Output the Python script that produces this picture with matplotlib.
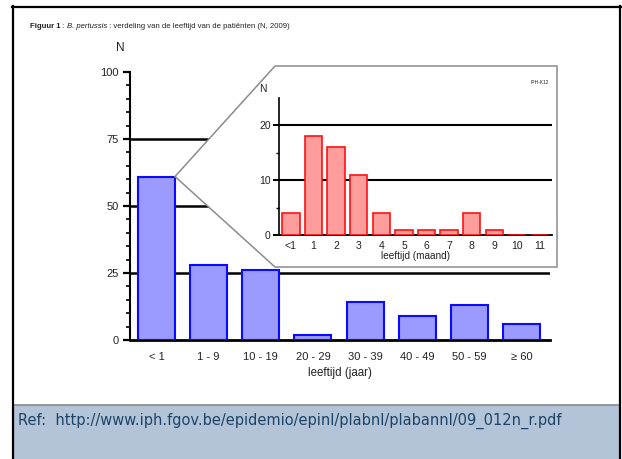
import matplotlib
matplotlib.use("Agg")
import matplotlib.pyplot as plt
from matplotlib import font_manager
from matplotlib.patches import Polygon, Rectangle
from matplotlib.lines import Line2D
from matplotlib.text import Annotation
from matplotlib.ticker import MultipleLocator, FixedLocator


# -----------------------------
# Data
# -----------------------------
AGE_GROUPS = ["< 1", "1 - 9", "10 - 19", "20 - 29", "30 - 39", "40 - 49", "50 - 59", "≥ 60"]
AGE_COUNTS = [61, 28, 26, 2, 14, 9, 13, 6]

MONTHS = ["<1", "1", "2", "3", "4", "5", "6", "7", "8", "9", "10", "11"]
MONTH_COUNTS = [4, 18, 16, 11, 4, 1, 1, 1, 4, 1, 0, 0]

TITLE_BOLD = "Figuur 1"
TITLE_ITALIC = "B. pertussis"
TITLE_REST = " : verdeling van de leeftijd van de patiënten (N, 2009)"
REF_TEXT = "Ref:  http://www.iph.fgov.be/epidemio/epinl/plabnl/plabannl/09_012n_r.pdf"


# -----------------------------
# Style
# -----------------------------
BLUE_FILL = "#9a9aff"
BLUE_EDGE = "#0a0aff"
RED_FILL = "#ff9c9c"
RED_EDGE = "#ff1010"
PANEL_COLOR = "#b4c4d8"
REF_COLOR = "#1d4468"
INSET_EDGE = "#8c8c8c"
TEXT_COLOR = "#222222"

W, H = 622, 459

names = {f.name for f in font_manager.fontManager.ttflist}
TITLE_FONT = "Liberation Sans Narrow" if "Liberation Sans Narrow" in names else "Liberation Sans"
TITLE_SIZE = 6.3 if TITLE_FONT == "Liberation Sans Narrow" else 5.6
plt.rcParams["font.family"] = ["Liberation Sans", "DejaVu Sans"]


def fx(px):
    return px / W


def fy(py):
    return 1 - py / H


fig = plt.figure(figsize=(W / 100, H / 100), dpi=100)

# frame + bottom panel
fig.add_artist(Rectangle((fx(14), 0), fx(619.5) - fx(14), fy(405), transform=fig.transFigure,
                         facecolor=PANEL_COLOR, edgecolor="none", zorder=0))
fig.add_artist(Line2D([fx(14), fx(619.5)], [fy(405), fy(405)], transform=fig.transFigure,
                      color="#8a8a8a", linewidth=1.2))
for xs, ys in [([fx(12), fx(621)], [fy(6.5), fy(6.5)]),
               ([fx(13), fx(13)], [fy(5.5), 0]),
               ([fx(620.3), fx(620.3)], [fy(5.5), 0])]:
    fig.add_artist(Line2D(xs, ys, transform=fig.transFigure, color="black", linewidth=1.6))

# title in pieces (bold / normal / italic / normal)
t1 = fig.text(fx(30), fy(26), TITLE_BOLD, fontsize=TITLE_SIZE, fontweight="bold",
              family=TITLE_FONT, va="center", color=TEXT_COLOR)
prev = t1
for piece, style in [(" : ", "normal"), (TITLE_ITALIC, "italic"), (TITLE_REST, "normal")]:
    prev = fig.add_artist(Annotation(piece, xy=(1, 0), xycoords=prev, va="bottom",
                                     fontsize=TITLE_SIZE, family=TITLE_FONT,
                                     style=style, color=TEXT_COLOR))

fig.text(fx(18), fy(421), REF_TEXT, fontsize=10.5, family="DejaVu Sans",
         color=REF_COLOR, va="center")

# =================================================
# Main chart: age in years
# =================================================
ax = fig.add_axes([fx(130), fy(340), fx(550) - fx(130), fy(72) - fy(340)])
ax.set_facecolor("none")
xpos = list(range(len(AGE_GROUPS)))
bar_w = 0.71
ax.bar(xpos, AGE_COUNTS, width=bar_w, color=BLUE_FILL, edgecolor=BLUE_EDGE,
       linewidth=1.5, zorder=3)
ax.set_xlim(-0.508, 7.546)
ax.set_ylim(0, 100)
for y in [25, 50, 75]:
    ax.axhline(y, color="black", linewidth=1.8, zorder=1)

ax.yaxis.set_major_locator(MultipleLocator(25))
ax.yaxis.set_minor_locator(MultipleLocator(5))
ax.tick_params(axis="y", which="major", direction="out", length=5, width=1.6,
               labelsize=8, pad=3, colors="black", labelcolor=TEXT_COLOR)
ax.tick_params(axis="y", which="minor", direction="out", length=3, width=1.2)
ax.set_xticks(xpos)
ax.set_xticklabels(AGE_GROUPS)
ax.tick_params(axis="x", length=0, labelsize=8, pad=9, labelcolor=TEXT_COLOR)
ax.set_xlabel("leeftijd (jaar)", fontsize=8.3, labelpad=3, color=TEXT_COLOR)
for side in ["top", "right"]:
    ax.spines[side].set_visible(False)
ax.spines["left"].set_linewidth(1.5)
ax.spines["bottom"].set_linewidth(2)
ax.text(-0.024, 1.09, "N", transform=ax.transAxes, ha="center", va="center",
        fontsize=8.5, color=TEXT_COLOR)

# zoom polygon from the top right corner of the first bar
tip = ax.transData.transform((xpos[0] + bar_w / 2, AGE_COUNTS[0]))
tip = fig.transFigure.inverted().transform(tip)
poly = Polygon([tip, (fx(275), fy(66)), (fx(557), fy(66)), (fx(557), fy(267)), (fx(275), fy(267))],
               closed=True, transform=fig.transFigure, facecolor="white",
               edgecolor=INSET_EDGE, linewidth=1.1, zorder=1)
fig.add_artist(poly)

# =================================================
# Inset: first year in months
# =================================================
ins = fig.add_axes([fx(279), fy(235), fx(552) - fx(279), fy(98) - fy(235)])
ins.set_zorder(2)
ins.set_facecolor("none")
mpos = list(range(len(MONTHS)))
ins.bar(mpos, MONTH_COUNTS, width=0.77, color=RED_FILL, edgecolor=RED_EDGE,
        linewidth=1.2, zorder=3)
ins.set_xlim(-0.53, 11.55)
ins.set_ylim(0, 25)
for y in [10, 20]:
    ins.axhline(y, color="black", linewidth=1.5, zorder=1)
ins.yaxis.set_major_locator(FixedLocator([0, 10, 20]))
ins.yaxis.set_minor_locator(FixedLocator([5, 15]))
ins.tick_params(axis="y", which="major", direction="out", length=4, width=1.4,
                labelsize=7.5, pad=2, labelcolor=TEXT_COLOR)
ins.tick_params(axis="y", which="minor", direction="out", length=2, width=1)
ins.set_xticks(mpos)
ins.set_xticklabels(MONTHS)
ins.tick_params(axis="x", length=0, labelsize=7.5, pad=4, labelcolor=TEXT_COLOR)
ins.set_xlabel("leeftijd (maand)", fontsize=7.2, labelpad=0, color=TEXT_COLOR)
for side in ["top", "right"]:
    ins.spines[side].set_visible(False)
ins.spines["left"].set_linewidth(1.2)
ins.spines["bottom"].set_linewidth(1.3)
ins.text(-0.059, 1.066, "N", transform=ins.transAxes, ha="center", va="center",
         fontsize=7.5, color=TEXT_COLOR)
ins.text(0.956, 1.11, "IPH-K12", transform=ins.transAxes, ha="center", va="center",
         fontsize=3.5, color=TEXT_COLOR)

fig.savefig("out.png", dpi=100)
plt.close(fig)
